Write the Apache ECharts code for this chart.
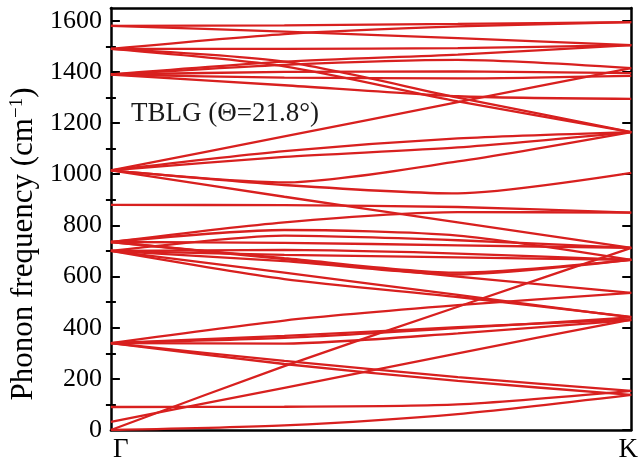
<!DOCTYPE html>
<html><head><meta charset="utf-8">
<script src="https://cdn.jsdelivr.net/npm/echarts@6/dist/echarts.min.js"></script>
<style>html,body{margin:0;padding:0;background:#fff}#c{width:641px;height:465px}</style>
</head><body><div id="c"></div>
<script>
// positions along the Γ → K path where band values were read
const pathPos = [0, 1/3, 2/3, 1];
const kLabels = ['Γ', 'K'];
const majorTicks = [0, 200, 400, 600, 800, 1000, 1200, 1400, 1600];
const minorTicks = [100, 300, 500, 700, 900, 1100, 1300, 1500];

// bands starting near 1580 / 1490 / 1390 cm^-1 at Γ
const bandsTop = [
  [1580, 1582, 1588, 1595],
  [1580, 1558, 1532, 1505],
  [1490, 1548, 1578, 1595],
  [1490, 1490, 1493, 1505],
  [1490, 1440, 1300, 1165],
  [1490, 1422, 1285, 1165],
  [1390, 1440, 1468, 1505],
  [1390, 1428, 1447, 1415],
  [1390, 1400, 1402, 1395],
  [1390, 1378, 1375, 1385],
  [1390, 1348, 1305, 1295]
];
// bands starting near 1015 / 880 cm^-1
const bandsUpper = [
  [1015, 1148, 1282, 1415],
  [1015, 1090, 1140, 1165],
  [1015, 1068, 1105, 1165],
  [1015, 968, 1050, 1165],
  [1015, 958, 925, 1005],
  [1015, 912, 812, 712],
  [880, 879, 872, 850]
];
// bands starting near 735 / 700 cm^-1
const bandsMid = [
  [735, 812, 852, 850],
  [735, 782, 760, 665],
  [700, 760, 742, 712],
  [735, 732, 722, 712],
  [700, 704, 690, 665],
  [700, 685, 675, 665],
  [735, 672, 615, 665],
  [700, 660, 608, 665],
  [735, 668, 600, 536],
  [700, 615, 528, 440],
  [700, 590, 520, 442]
];
// bands starting near 340 cm^-1
const bandsLow = [
  [340, 428, 488, 536],
  [340, 368, 402, 432],
  [340, 360, 398, 440],
  [340, 338, 378, 430],
  [340, 270, 207, 153],
  [340, 258, 192, 137]
];
// acoustic and low-frequency bands
const bandsAcoustic = [
  [0, 250, 482, 712],
  [32, 165, 300, 432],
  [90, 91, 100, 153],
  [0, 18, 62, 137]
];

const RED = '#d8201f';
const FONT = 'Liberation Serif';
const allBands = [].concat(bandsTop, bandsUpper, bandsMid, bandsLow, bandsAcoustic);
const series = allBands.map(b => ({
  type: 'line',
  data: pathPos.map((x, i) => [x, b[i]]),
  smooth: 0.25,
  symbol: 'none',
  silent: true,
  lineStyle: { color: RED, width: 2.3 }
}));

const axisLine = { show: true, onZero: false, lineStyle: { color: '#000', width: 2.5 } };
const chart = echarts.init(document.getElementById('c'));
chart.setOption({
  animation: false,
  backgroundColor: '#fff',
  title: {
    text: 'TBLG (Θ=21.8°)', left: 126, top: 95,
    textStyle: { fontFamily: FONT, fontSize: 27, fontWeight: 'normal', color: '#1a1a1a' }
  },
  grid: { left: 110, right: 5, top: 8, bottom: 35 },
  xAxis: [
    {
      type: 'value', min: 0, max: 1, interval: 1, position: 'bottom',
      axisLine, axisTick: { show: false }, splitLine: { show: false },
      axisLabel: {
        margin: 6, color: '#000', fontFamily: FONT, fontSize: 27,
        formatter: v => v === 0 ? '{g|' + kLabels[0] + '}' : '{k|' + kLabels[1] + '}',
        rich: {
          g: { fontFamily: FONT, fontSize: 27, color: '#000', padding: [0, 0, 0, 20] },
          k: { fontFamily: FONT, fontSize: 27, color: '#000', padding: [0, 6, 0, 0] }
        }
      }
    },
    {
      type: 'value', min: 0, max: 1, position: 'top',
      axisLine, axisTick: { show: false }, axisLabel: { show: false }, splitLine: { show: false }
    }
  ],
  yAxis: [
    {
      type: 'value', min: 0, max: 1650, interval: 200, position: 'left',
      axisLine,
      axisTick: { inside: true, length: 9, customValues: majorTicks, lineStyle: { color: '#000', width: 2 } },
      axisLabel: { customValues: majorTicks, margin: 9, color: '#000', fontFamily: FONT, fontSize: 26,
        formatter: v => String(v) },
      splitLine: { show: false },
      name: 'Phonon frequency (cm{sup|−1})',
      nameLocation: 'middle', nameGap: 64, nameRotate: 90,
      nameTextStyle: {
        fontFamily: FONT, fontSize: 31, color: '#000', padding: [0, 50, 0, 0],
        rich: { sup: { fontFamily: FONT, fontSize: 19, color: '#000', verticalAlign: 'top' } }
      }
    },
    {
      type: 'value', min: 0, max: 1650, interval: 200, position: 'right',
      axisLine,
      axisTick: { inside: true, length: 9, customValues: majorTicks, lineStyle: { color: '#000', width: 2 } },
      axisLabel: { show: false }, splitLine: { show: false }
    },
    {
      type: 'value', min: 0, max: 1650, position: 'left',
      axisLine: { show: false },
      axisTick: { inside: true, length: 5, customValues: minorTicks, lineStyle: { color: '#000', width: 2 } },
      axisLabel: { show: false }, splitLine: { show: false }
    },
    {
      type: 'value', min: 0, max: 1650, position: 'right',
      axisLine: { show: false },
      axisTick: { inside: true, length: 5, customValues: minorTicks, lineStyle: { color: '#000', width: 2 } },
      axisLabel: { show: false }, splitLine: { show: false }
    }
  ],
  series
});
</script></body></html>
